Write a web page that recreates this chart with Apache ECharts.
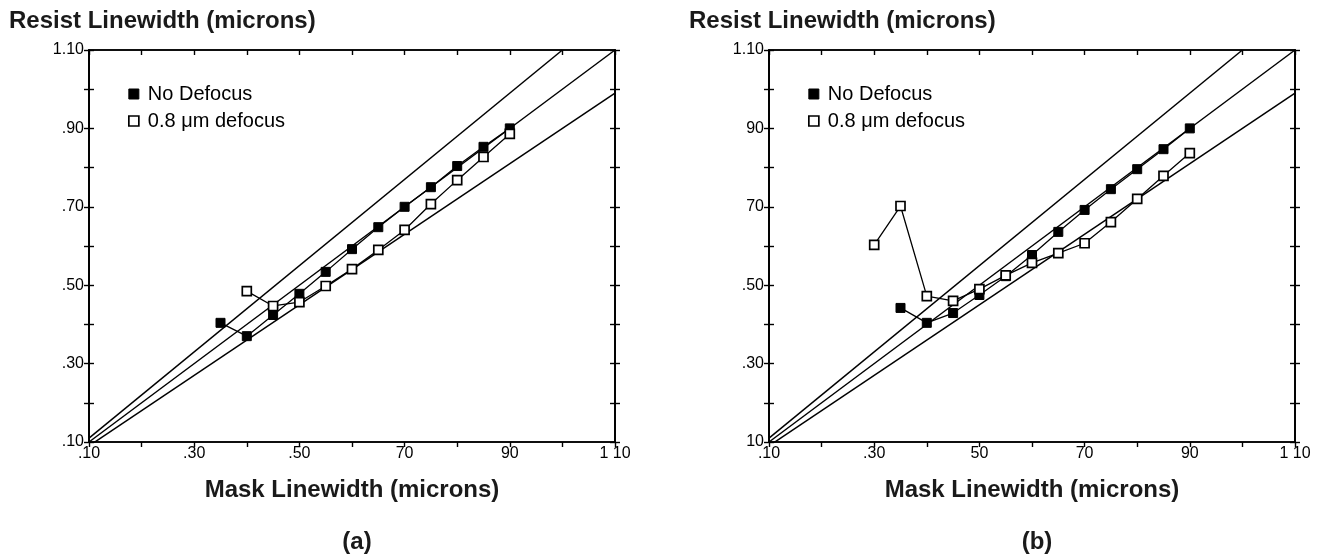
<!DOCTYPE html>
<html>
<head>
<meta charset="utf-8">
<script src="https://cdn.jsdelivr.net/npm/echarts@6/dist/echarts.min.js"></script>
<style>
  body { margin: 0; background: #fff; }
</style>
</head>
<body>
<div id="main" style="width: 1328px;height:560px;"></div>
<script type="text/javascript">
// ---- data (microns) ----
var noDefocusA = [[0.35, 0.404], [0.40, 0.370], [0.45, 0.424], [0.50, 0.478], [0.55, 0.534], [0.60, 0.592],
                  [0.65, 0.648], [0.70, 0.700], [0.75, 0.750], [0.80, 0.804], [0.85, 0.853], [0.90, 0.900]];
var defocusA   = [[0.40, 0.485], [0.45, 0.447], [0.50, 0.457], [0.55, 0.498], [0.60, 0.541], [0.65, 0.590],
                  [0.70, 0.641], [0.75, 0.707], [0.80, 0.768], [0.85, 0.827], [0.90, 0.886]];
var noDefocusB = [[0.35, 0.442], [0.40, 0.404], [0.45, 0.429], [0.50, 0.475], [0.55, 0.523], [0.60, 0.577],
                  [0.65, 0.636], [0.70, 0.692], [0.75, 0.745], [0.80, 0.796], [0.85, 0.847], [0.90, 0.900]];
var defocusB   = [[0.30, 0.603], [0.35, 0.702], [0.40, 0.472], [0.45, 0.460], [0.50, 0.490], [0.55, 0.525],
                  [0.60, 0.557], [0.65, 0.582], [0.70, 0.607], [0.75, 0.661], [0.80, 0.720], [0.85, 0.779], [0.90, 0.837]];

// +10%, nominal and -10% guide lines
var guideUpper = [[0.10, 0.11], [1.00, 1.10]];
var guideMid   = [[0.10, 0.10], [1.10, 1.10]];
var guideLower = [[0.10, 0.09], [1.10, 0.99]];

// tick labels (as printed, in hundredths)
var tickKeys = [10, 30, 50, 70, 90, 110];
var xLabelsA = ['.10', '.30', '.50', '70', '90', '1 10'];
var yLabelsA = ['.10', '.30', '.50', '.70', '.90', '1.10'];
var xLabelsB = ['.10', '.30', '50', '70', '90', '1 10'];
var yLabelsB = ['10', '.30', '.50', '70', '90', '1.10'];

var seriesNames = ['No Defocus', '0.8 \u03bcm defocus'];

var FONT = '"Liberation Sans", Arial, Helvetica, sans-serif';

function labelFn(labels) {
    return function (v) {
        var i = tickKeys.indexOf(Math.round(v * 100));
        return i >= 0 ? labels[i] : '';
    };
}

var myChart = echarts.init(document.getElementById('main'));

function xAxes(grid, labels) {
    var base = {
        gridIndex: grid, type: 'value', min: 0.1, max: 1.1, interval: 0.1,
        splitLine: {show: false},
        axisLine: {show: true, lineStyle: {color: '#000', width: 1.6}}
    };
    return [
        echarts.util.merge({
            name: 'Mask Linewidth (microns)', nameLocation: 'middle', nameGap: 36,
            nameTextStyle: {fontFamily: FONT, fontSize: 24, fontWeight: 'bold', color: '#1a1a1a'},
            axisTick: {show: true, inside: false, length: 5, lineStyle: {color: '#000', width: 1.4}},
            axisLabel: {formatter: labelFn(labels), fontFamily: FONT, fontSize: 16, color: '#000', margin: 4, showMinLabel: true, showMaxLabel: true}
        }, base, true),
        echarts.util.merge({
            axisTick: {show: true, inside: true, length: 5, lineStyle: {color: '#000', width: 1.4}},
            axisLabel: {show: false}
        }, base, true)
    ];
}

function yAxes(grid, labels) {
    var list = [];
    ['left', 'right'].forEach(function (pos) {
        [false, true].forEach(function (inside) {
            list.push({
                gridIndex: grid, type: 'value', position: pos, min: 0.1, max: 1.1, interval: 0.1,
                splitLine: {show: false},
                axisLine: {show: true, lineStyle: {color: '#000', width: 1.6}},
                axisTick: {show: true, inside: inside, length: 5, lineStyle: {color: '#000', width: 1.4}},
                axisLabel: {
                    show: pos === 'left' && !inside,
                    formatter: labelFn(labels), fontFamily: FONT, fontSize: 16, color: '#000', margin: 5,
                    showMinLabel: true, showMaxLabel: true
                }
            });
        });
    });
    return list;
}

function guide(data, xi, yi) {
    return {
        type: 'line', xAxisIndex: xi, yAxisIndex: yi, data: data, symbol: 'none', silent: true,
        lineStyle: {color: '#000', width: 1.5}, z: 1
    };
}

function measured(name, data, xi, yi, filled) {
    return {
        name: name, type: 'line', xAxisIndex: xi, yAxisIndex: yi, data: data,
        symbol: 'rect', symbolSize: 9, z: filled ? 3 : 4,
        lineStyle: {color: '#000', width: 1.3},
        itemStyle: filled ? {color: '#000', borderColor: '#000', borderWidth: 1}
                          : {color: '#fff', borderColor: '#000', borderWidth: 1.7}
    };
}

function legendAt(left) {
    return {
        left: left, top: 79, orient: 'vertical', icon: 'rect', itemWidth: 10, itemHeight: 10, itemGap: 7,
        selectedMode: false,
        textStyle: {fontFamily: FONT, fontSize: 20, color: '#000', lineHeight: 20, padding: [0, 0, 0, 4]},
        data: [
            {name: seriesNames[0], itemStyle: {color: '#000', borderColor: '#000', borderWidth: 1}},
            {name: seriesNames[1], itemStyle: {color: '#fff', borderColor: '#000', borderWidth: 1.7}}
        ]
    };
}

var titleStyle = {fontFamily: FONT, fontSize: 24, fontWeight: 'bold', color: '#1a1a1a'};

myChart.setOption({
    animation: false,
    backgroundColor: '#fff',
    title: [
        {text: 'Resist Linewidth (microns)', left: 4, top: 4, textStyle: titleStyle},
        {text: 'Resist Linewidth (microns)', left: 684, top: 4, textStyle: titleStyle},
        {text: '(a)', left: 352, top: 525, textAlign: 'center', textStyle: titleStyle},
        {text: '(b)', left: 1032, top: 525, textAlign: 'center', textStyle: titleStyle}
    ],
    legend: [legendAt(123), legendAt(803)],
    grid: [
        {left: 89, top: 50, width: 526, height: 392, show: true, borderColor: '#000', borderWidth: 1.6, backgroundColor: 'transparent'},
        {left: 769, top: 50, width: 526, height: 392, show: true, borderColor: '#000', borderWidth: 1.6, backgroundColor: 'transparent'}
    ],
    xAxis: xAxes(0, xLabelsA).concat(xAxes(1, xLabelsB)),
    yAxis: yAxes(0, yLabelsA).concat(yAxes(1, yLabelsB)),
    series: [
        guide(guideUpper, 0, 0), guide(guideMid, 0, 0), guide(guideLower, 0, 0),
        measured(seriesNames[0], noDefocusA, 0, 0, true),
        measured(seriesNames[1], defocusA, 0, 0, false),
        guide(guideUpper, 2, 4), guide(guideMid, 2, 4), guide(guideLower, 2, 4),
        measured(seriesNames[0], noDefocusB, 2, 4, true),
        measured(seriesNames[1], defocusB, 2, 4, false)
    ]
});
</script>
</body>
</html>
